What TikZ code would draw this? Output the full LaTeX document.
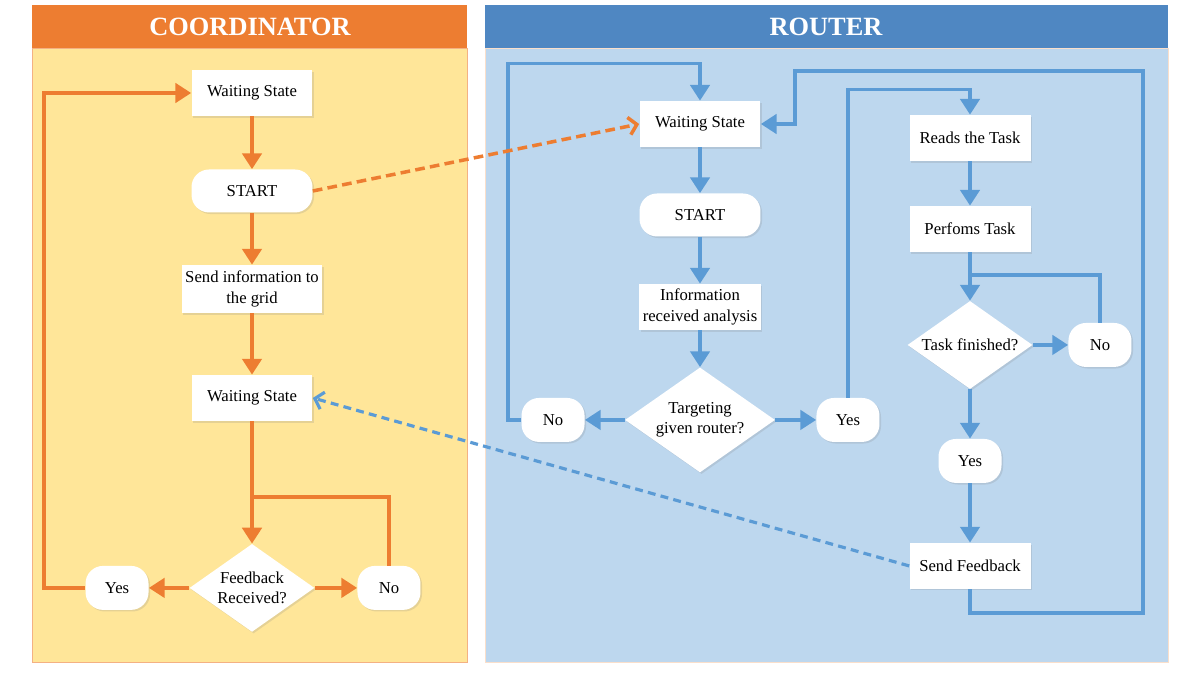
\documentclass[tikz,border=0pt]{standalone}
\usepackage{fontspec}
\setmainfont{Liberation Serif}
\usetikzlibrary{positioning,shapes.geometric,arrows.meta,calc,shadows}

\definecolor{coordorange}{HTML}{ED7D31}
\definecolor{coordfill}{HTML}{FFE699}
\definecolor{routerblue}{HTML}{4F87C2}
\definecolor{routerfill}{HTML}{BDD7EE}
\definecolor{lineblue}{HTML}{5B9BD5}

\tikzset{
  box/.style={rectangle, fill=white, inner sep=2pt, minimum width=2.42cm, minimum height=0.92cm, align=center,
    font=\fontsize{9.5}{11.5}\selectfont, drop shadow={shadow xshift=0.9pt, shadow yshift=-0.9pt, opacity=0.2}},
  term/.style={box, rounded corners=10pt, minimum height=0.86cm},
  smallterm/.style={term, minimum width=1.26cm, minimum height=0.88cm},
  decision/.style={box, diamond, aspect=1.4, inner sep=0pt, minimum width=2.5cm, minimum height=1.76cm},
  heading/.style={text=white, font=\fontsize{15}{18}\selectfont\bfseries},
  oline/.style={draw=coordorange, line width=2.1pt},
  bline/.style={draw=lineblue, line width=2.1pt},
  oarrow/.style={oline, -{Triangle[width=11pt,length=9pt]}},
  barrow/.style={bline, -{Triangle[width=11pt,length=9pt]}},
  odash/.style={draw=coordorange, line width=2pt, dash pattern=on 5.5pt off 3pt, -{Straight Barb[length=4.5pt,width=10pt]}},
  bdash/.style={draw=lineblue, line width=1.8pt, dash pattern=on 4.5pt off 3pt, -{Straight Barb[length=4.5pt,width=10pt]}}
}

\begin{document}
\begin{tikzpicture}[x=0.02cm, y=-0.02cm]
    \useasboundingbox (0,0) rectangle (1200,675);

    % panels
    \fill[coordorange] (32,5) rectangle (467,48);
    \filldraw[fill=coordfill, draw=coordorange!60] (32,48) rectangle (467,662);
    \fill[routerblue] (485,5) rectangle (1168,48);
    \filldraw[fill=routerfill, draw=coordorange!25] (485,48) rectangle (1168,662);
    \node (chead) [heading] at (250,27) {COORDINATOR};
    \node (rhead) [heading] at (826,27) {ROUTER};

    % coordinator
    \node (cws1) [box] at (252,93) {Waiting State};
    \node (cstart) [term, node distance=1.96cm, below of=cws1] {START};
    \node (csend) [box, minimum width=2.82cm, minimum height=0.96cm, node distance=1.96cm, below of=cstart] {Send information to\\the grid};
    \node (cws2) [box, node distance=2.18cm, below of=csend] {Waiting State};
    \node (cfb) [decision, node distance=3.8cm, below of=cws2] {Feedback\\Received?};
    \node (cyes) [smallterm, node distance=2.7cm, left of=cfb] {Yes};
    \node (cno) [smallterm, node distance=2.74cm, right of=cfb] {No};
    \coordinate (cmerge) at (252,497);

    \draw[oarrow] (cws1) -- (cstart);
    \draw[oarrow] (cstart) -- (csend);
    \draw[oarrow] (csend) -- (cws2);
    \draw[oarrow] (cws2) -- (cfb);
    \draw[oarrow] (cfb) -- (cyes);
    \draw[oarrow] (cfb) -- (cno);
    \draw[oline] (cno.north) |- (cmerge);
    \draw[oarrow] (cyes.west) -- ++(-41,0) |- (cws1.west);

    % router, left column
    \node (rws) [box] at (700,124) {Waiting State};
    \node (rstart) [term, node distance=1.82cm, below of=rws] {START};
    \node (rinfo) [box, node distance=1.84cm, below of=rstart] {Information\\received analysis};
    \node (rtgt) [decision, minimum width=3cm, minimum height=2.1cm, node distance=2.26cm, below of=rinfo] {Targeting\\given router?};
    \node (rno) [smallterm, node distance=2.94cm, left of=rtgt] {No};
    \node (ryes) [smallterm, node distance=2.96cm, right of=rtgt] {Yes};

    % router, right column
    \node (rread) [box] at (970,138) {Reads the Task};
    \node (rperf) [box, node distance=1.82cm, below of=rread] {Perfoms Task};
    \node (rtf) [decision, node distance=2.32cm, below of=rperf] {Task finished?};
    \node (rtno) [smallterm, node distance=2.6cm, right of=rtf] {No};
    \node (rtyes) [smallterm, node distance=2.32cm, below of=rtf] {Yes};
    \node (rsend) [box, node distance=2.1cm, below of=rtyes] {Send Feedback};
    \coordinate (tmerge) at (970,275);

    \draw[barrow] (rws) -- (rstart);
    \draw[barrow] (rstart) -- (rinfo);
    \draw[barrow] (rinfo) -- (rtgt);
    \draw[barrow] (rtgt) -- (rno);
    \draw[barrow] (rtgt) -- (ryes);
    \draw[barrow] (rno.west) -- ++(-13,0) |- ($(rws.north)+(0,-37)$) -- (rws.north);
    \draw[barrow] (ryes.north) |- ($(rread.north)+(0,-25)$) -- (rread.north);
    \draw[barrow] (rread) -- (rperf);
    \draw[barrow] (rperf) -- (rtf);
    \draw[barrow] (rtf) -- (rtno);
    \draw[bline] (rtno.north) |- (tmerge);
    \draw[barrow] (rtf) -- (rtyes);
    \draw[barrow] (rtyes) -- (rsend);
    \draw[barrow] (rsend.south) -- ++(0,24) -- ++(173,0) -- ++(0,-542) -- ++(-348,0) |- (rws.east);

    % messages between the two
    \draw[odash] (cstart.east) -- (rws.west);
    \draw[bdash] (rsend.west) -- (cws2.east);
\end{tikzpicture}
\end{document}
